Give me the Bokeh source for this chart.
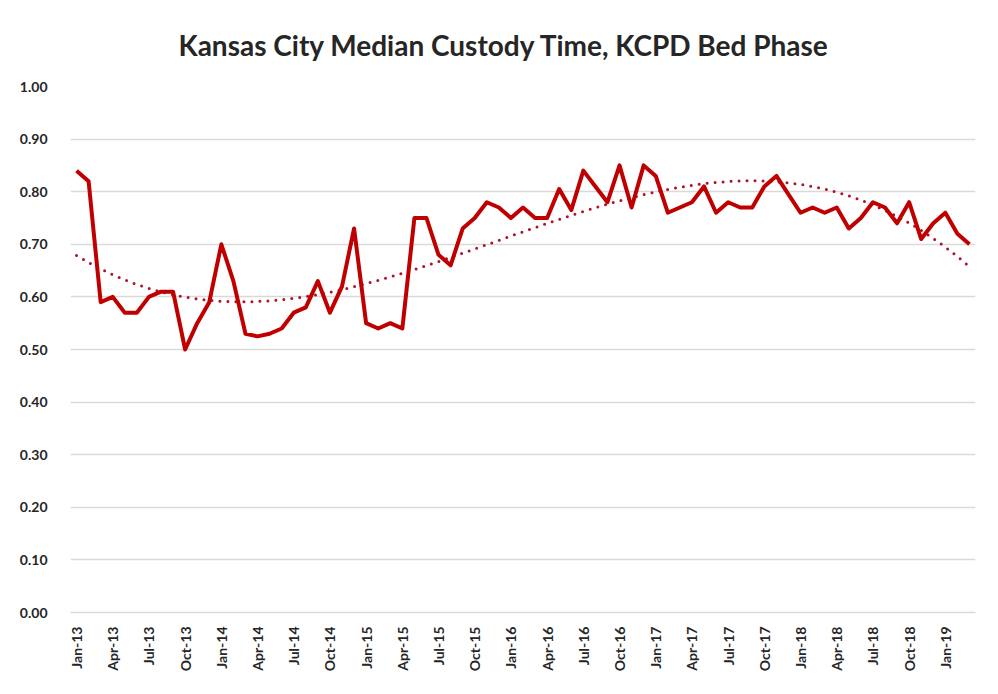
import numpy as np
from bokeh.plotting import figure
from bokeh.models import Range1d, FixedTicker, NumeralTickFormatter, Title
from bokeh.embed import file_html
from bokeh.resources import INLINE

# Monthly median custody time, Jan-13 .. Mar-19
custody = [0.84, 0.82, 0.59, 0.60, 0.57, 0.57, 0.60, 0.61, 0.61, 0.50,
           0.55, 0.59, 0.70, 0.63, 0.53, 0.525, 0.53, 0.54, 0.57, 0.58,
           0.63, 0.57, 0.62, 0.73, 0.55, 0.54, 0.55, 0.54, 0.75, 0.75,
           0.68, 0.66, 0.73, 0.75, 0.78, 0.77, 0.75, 0.77, 0.75, 0.75,
           0.805, 0.765, 0.84, 0.81, 0.78, 0.85, 0.77, 0.85, 0.83, 0.76,
           0.77, 0.78, 0.81, 0.76, 0.78, 0.77, 0.77, 0.81, 0.83, 0.795,
           0.76, 0.77, 0.76, 0.77, 0.73, 0.75, 0.78, 0.77, 0.74, 0.78,
           0.71, 0.74, 0.76, 0.72, 0.70]
tick_labels = ["Jan-13", "Apr-13", "Jul-13", "Oct-13", "Jan-14", "Apr-14",
               "Jul-14", "Oct-14", "Jan-15", "Apr-15", "Jul-15", "Oct-15",
               "Jan-16", "Apr-16", "Jul-16", "Oct-16", "Jan-17", "Apr-17",
               "Jul-17", "Oct-17", "Jan-18", "Apr-18", "Jul-18", "Oct-18",
               "Jan-19"]
tick_step = 3
trend_order = 3

x = np.arange(len(custody))
coef = np.polyfit(x, custody, trend_order)
trend = np.polyval(coef, x)

FONT = "Lato"
TXT = "#262626"

p = figure(width=982, height=678, output_backend="svg", toolbar_location=None,
           x_range=Range1d(-0.5, len(custody) - 0.5), y_range=Range1d(0, 1.0),
           min_border_left=70, min_border_right=7, min_border_top=85,
           min_border_bottom=66)
p.styles = {"outline": "1px solid #D6D6D6", "outline-offset": "-2px"}

p.add_layout(Title(text="Kansas City Median Custody Time, KCPD Bed Phase",
                   align="left", text_font=FONT, text_font_size="28px",
                   text_font_style="bold", text_color=TXT, offset=108,
                   standoff=50), "above")

p.line(x, trend, line_color="#B0102A", line_width=3, line_dash="0 8",
       line_cap="round")
p.line(x, custody, line_color="#C00000", line_width=4, line_join="round")

p.outline_line_color = None
p.background_fill_color = "white"
p.border_fill_color = "white"

p.xgrid.grid_line_color = None
p.ygrid.grid_line_color = "#D9D9D9"
p.ygrid.grid_line_width = 1.5
p.yaxis.ticker = FixedTicker(ticks=[round(0.1 * i, 1) for i in range(11)])
p.yaxis.formatter = NumeralTickFormatter(format="0.00")
p.xaxis.ticker = FixedTicker(ticks=list(range(0, len(custody), tick_step)))
p.xaxis.major_label_overrides = {i * tick_step: lab for i, lab in enumerate(tick_labels)}
p.xaxis.major_label_orientation = np.pi / 2

for ax in (p.xaxis, p.yaxis):
    ax.major_label_text_font = FONT
    ax.major_label_text_font_size = "14px"
    ax.major_label_text_font_style = "bold"
    ax.major_label_text_color = TXT
    ax.major_tick_line_color = None
    ax.minor_tick_line_color = None
p.yaxis.axis_line_color = None
p.xaxis.axis_line_color = "#D9D9D9"
p.xaxis.axis_line_width = 1.5
p.xaxis.major_label_standoff = 8
p.yaxis.major_label_standoff = 17

open("out.html", "w").write(file_html(p, INLINE))
